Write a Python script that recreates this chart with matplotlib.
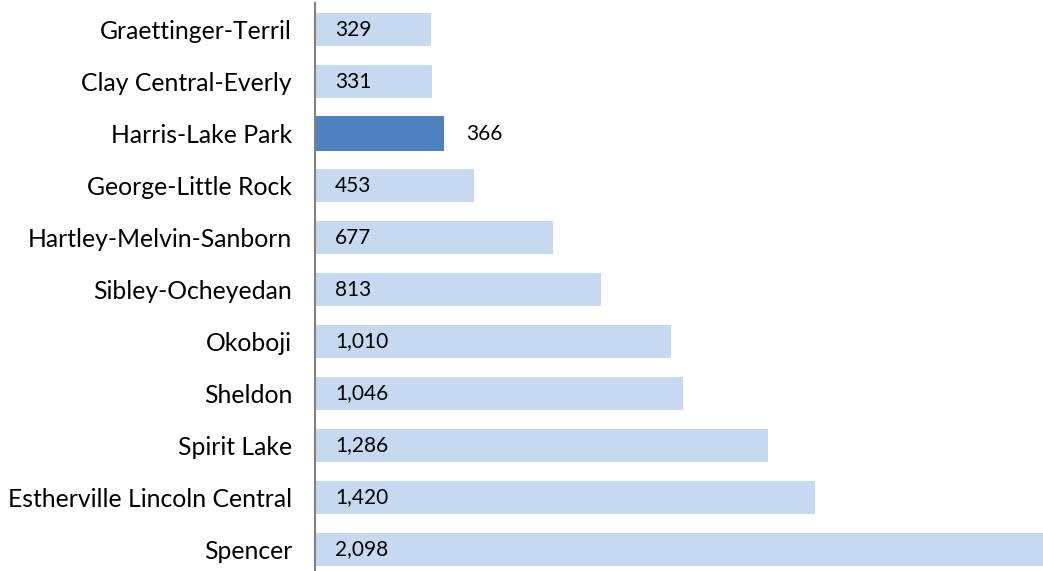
import matplotlib
matplotlib.use("Agg")
import matplotlib.pyplot as plt

# Datos del gráfico (de arriba hacia abajo)
distritos = ["Graettinger-Terril", "Clay Central-Everly", "Harris-Lake Park",
             "George-Little Rock", "Hartley-Melvin-Sanborn", "Sibley-Ocheyedan",
             "Okoboji", "Sheldon", "Spirit Lake", "Estherville Lincoln Central",
             "Spencer"]
valores = [329, 331, 366, 453, 677, 813, 1010, 1046, 1286, 1420, 2098]
destacado = "Harris-Lake Park"

plt.rcParams["font.family"] = ["Lato", "DejaVu Sans"]

W, H = 1043, 571
fig = plt.figure(figsize=(W / 100, H / 100), dpi=100)
ax = fig.add_axes([315 / W, 0, 1 - 315 / W, 1 - 3 / H])

pos = list(range(len(distritos)))
colores = ["#4F81BD" if d == destacado else "#C6D9F1" for d in distritos]
alturas = [0.69 if d == destacado else 0.635 for d in distritos]
ax.barh(pos, valores, height=alturas, color=colores, zorder=2)

# La barra más larga queda recortada por el borde, como en el original
ax.set_xlim(0, 2068)
ax.set_ylim(10 + 21.5 / 52, -(29.5 - 3) / 52)

ax.set_yticks(pos)
ax.set_yticklabels(distritos, fontsize=17.8)
ax.tick_params(axis="y", length=0, pad=16.5)
ax.set_xticks([])

for lado in ["top", "right", "bottom"]:
    ax.spines[lado].set_visible(False)
ax.spines["left"].set_color("#808080")
ax.spines["left"].set_linewidth(1.5)
ax.spines["left"].set_zorder(3)

# Etiquetas de valores
for i, (d, v) in enumerate(zip(distritos, valores)):
    texto = f"{v:,}"
    if d == destacado:
        ax.annotate(texto, xy=(v, i), xytext=(22, 0), textcoords="offset pixels",
                    va="center", ha="left", fontsize=15, color="black")
    else:
        ax.annotate(texto, xy=(0, i), xytext=(20, 0), textcoords="offset pixels",
                    va="center", ha="left", fontsize=15, color="black", zorder=4)

fig.savefig("out.png", dpi=100)
